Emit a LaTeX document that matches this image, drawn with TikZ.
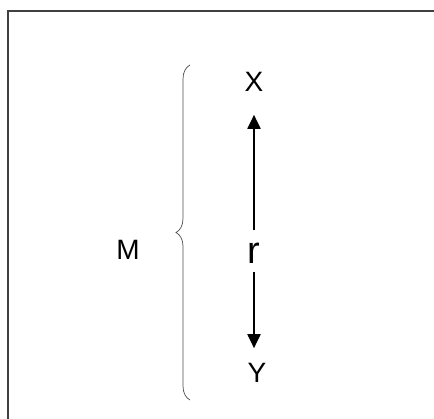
\documentclass[tikz,border=0pt]{standalone}
\usepackage{fontspec}
\setmainfont{Liberation Sans}
\usetikzlibrary{arrows.meta, decorations.pathreplacing, positioning}

\begin{document}
\begin{tikzpicture}[x=1pt, y=-1pt, font=\fontsize{28}{32}\selectfont,
		lbl/.style={inner sep=0pt},
		pfeil/.style={line width=2pt, -{Triangle[length=14pt, width=13pt]}}]
		\useasboundingbox (0,0) rectangle (434,419);
		% 边框（只看得到上边和左边）
		\draw[line width=2.2pt, black!75] (8,419) -- (8,11) -- (434,11);
		% 文字
		\node[lbl] (M) at (128,250) {M};
		\node[lbl] (X) at (254,82) {X};
		\node[lbl] (Y) at (257,373) {Y};
		\node[lbl, font=\fontsize{38}{42}\selectfont] (r) at (254,253) {r};
		% 大括号
		\coordinate (bo) at (190,65);
		\coordinate (bu) at (190,400);
		\draw[black!70, line width=0.7pt, decorate, decoration={brace, amplitude=14pt}] (bu) -- (bo);
		% 箭头 r -> X, r -> Y
		\draw[pfeil, shorten <=13pt, shorten >=23pt] (r) -- (X);
		\draw[pfeil, shorten <=9pt, shorten >=15pt] (r) -- (r |- Y.north);
	\end{tikzpicture}
\end{document}
